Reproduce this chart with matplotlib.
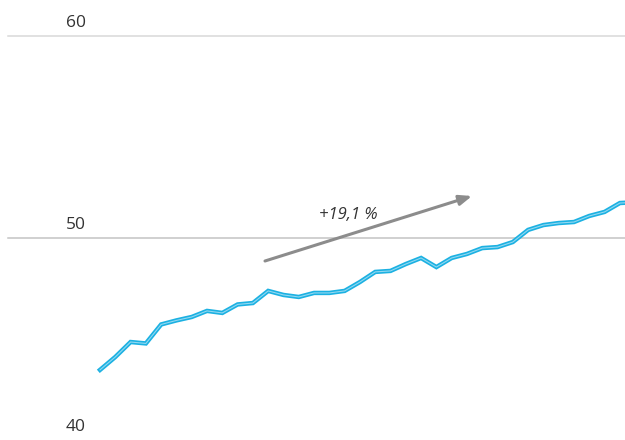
import matplotlib
matplotlib.use("Agg")
import matplotlib.pyplot as plt
import numpy as np

values = [43.47, 44.11, 44.85, 44.78, 45.72, 45.92, 46.09, 46.39, 46.29, 46.71,
          46.78, 47.38, 47.18, 47.08, 47.28, 47.28, 47.38, 47.82, 48.32, 48.37,
          48.71, 49.01, 48.56, 49.01, 49.21, 49.50, 49.55, 49.80, 50.40, 50.64,
          50.74, 50.79, 51.09, 51.29, 51.73, 51.77]
y_ticks = [40, 50, 60]
y_tick_labels = ["40", "50", "60"]
growth_label = "+19,1 %"

plt.rcParams['font.family'] = ['Open Sans', 'DejaVu Sans']

fig = plt.figure(figsize=(6.25, 4.4), dpi=100)
ax = fig.add_axes([0, 0, 1, 1])
ax.set_axis_off()

step = 15.29
ax.set_xlim(-100 / step, (625 - 100) / step)
ax.set_ylim(40, 61.78)

x = np.arange(len(values))

# gridlines
grid_colors = {50: "#c4c4c4", 60: "#d9d9d9"}
for t in y_ticks:
    if t in grid_colors:
        ax.axhline(t, xmin=8 / 625, xmax=1, color=grid_colors[t], lw=1.1, zorder=1)

# tick labels above gridlines
for t, lab in zip(y_ticks, y_tick_labels):
    ax.annotate(lab, xy=(66 / 625, t), xycoords=("axes fraction", "data"),
                xytext=(0, 9.0), textcoords="offset points",
                ha="left", va="center", fontsize=12.5, color="#333333")

# line: cyan with lighter inner stroke
ax.plot(x, values, color="#1cb1e2", lw=3.2, solid_joinstyle="miter", zorder=3)
ax.plot(x, values, color="#93d8f1", lw=0.8, solid_joinstyle="miter", zorder=4)

# growth arrow
ax.annotate("", xy=(472 / 625, 1 - 196 / 440), xytext=(265 / 625, 1 - 261 / 440),
            xycoords="axes fraction", textcoords="axes fraction",
            arrowprops=dict(arrowstyle="-|>,head_length=0.75,head_width=0.3",
                            color="#8c8c8c", lw=2.2, shrinkA=0, shrinkB=0))
ax.text(348 / 625, 1 - 215 / 440, growth_label, transform=ax.transAxes,
        ha="center", va="center", fontsize=12, style="italic", color="#333333")

fig.savefig("out.png", dpi=100)
